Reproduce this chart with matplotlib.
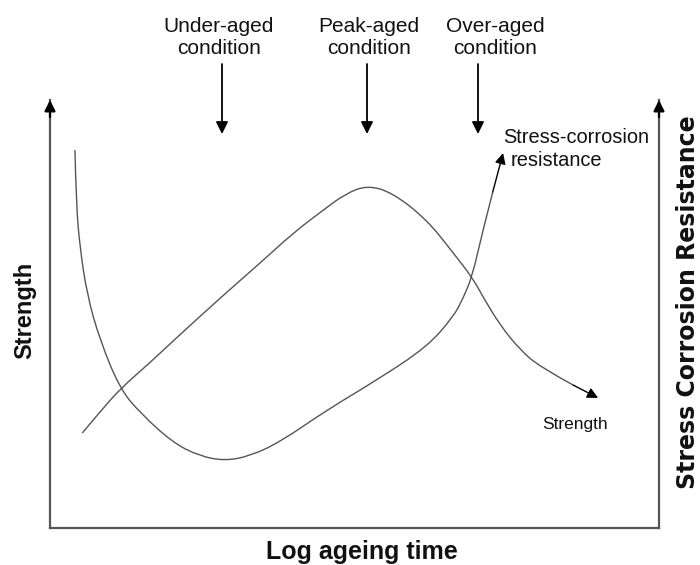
import matplotlib
matplotlib.use("Agg")
import matplotlib.pyplot as plt
from matplotlib.path import Path
from matplotlib.patches import PathPatch, FancyArrowPatch

plt.rcParams['font.family'] = ['Liberation Sans', 'DejaVu Sans']

# Schematic curves (arbitrary units, 0..10 on both axes)
strength_x = [0.53, 0.82, 1.15, 1.64, 2.02, 2.87, 3.45, 3.99, 4.47, 4.84, 5.21,
              5.63, 6.19, 6.62, 6.93, 7.11, 7.39, 7.72, 8.05, 8.59]
strength_y = [2.22, 2.71, 3.25, 3.86, 4.37, 5.47, 6.19, 6.89, 7.41, 7.80, 8.01,
              7.83, 7.20, 6.43, 5.86, 5.40, 4.74, 4.16, 3.76, 3.34]
strength_tip = (9.00, 3.04)

scr_x = [0.41, 0.43, 0.49, 0.61, 0.82, 1.15, 1.48, 2.02, 2.46, 2.87, 3.28, 3.78,
         4.55, 5.37, 6.19, 6.62, 6.77, 6.93, 7.09, 7.27]
scr_y = [8.83, 7.59, 6.57, 5.44, 4.39, 3.25, 2.69, 1.99, 1.68, 1.57, 1.68, 2.01,
         2.76, 3.46, 4.23, 4.93, 5.33, 5.86, 6.85, 7.85]
scr_tip = (7.44, 8.76)

conditions = ["Under-aged\ncondition", "Peak-aged\ncondition", "Over-aged\ncondition"]
cond_text_x = [219, 369, 495]     # pixel centres of labels
cond_arrow_x = [222, 367, 478]    # pixel x of arrows

W, H = 700, 565
fig = plt.figure(figsize=(W / 100, H / 100), dpi=100)
ax = fig.add_axes([50 / W, 1 - 528 / H, 609 / W, 428 / H])
ax.set_xlim(0, 10)
ax.set_ylim(0, 10)
ax.set_xticks([])
ax.set_yticks([])
ax.spines['top'].set_visible(False)
for s in ['left', 'right', 'bottom']:
    ax.spines[s].set_color('#555555')
    ax.spines[s].set_linewidth(1.6)

line_col = '#555555'


def smooth_path(xs, ys):
    """Quadratic B-spline style path: read points act as control points."""
    pts = list(zip(xs, ys))
    verts = [pts[0]]
    codes = [Path.MOVETO]
    for i in range(1, len(pts) - 1):
        mid = ((pts[i][0] + pts[i + 1][0]) / 2, (pts[i][1] + pts[i + 1][1]) / 2)
        if i == len(pts) - 2:
            mid = pts[-1]
        verts += [pts[i], mid]
        codes += [Path.CURVE3, Path.CURVE3]
    return Path(verts, codes)


for xs, ys in [(strength_x, strength_y), (scr_x, scr_y)]:
    ax.add_patch(PathPatch(smooth_path(xs, ys), fill=False, edgecolor=line_col,
                           lw=1.0, transform=ax.transData))

ax.annotate('', xy=strength_tip, xytext=(strength_x[-1], strength_y[-1]),
            arrowprops=dict(arrowstyle='-|>', color='black', lw=1.0,
                            mutation_scale=16, shrinkA=0, shrinkB=0))
ax.annotate('', xy=scr_tip, xytext=(scr_x[-1], scr_y[-1]),
            arrowprops=dict(arrowstyle='-|>', color='black', lw=1.0,
                            mutation_scale=16, shrinkA=0, shrinkB=0))

# axis arrowheads
for xa in [0, 1]:
    ax.annotate('', xy=(xa, 1.0), xytext=(xa, 0.96), xycoords='axes fraction',
                textcoords='axes fraction',
                arrowprops=dict(arrowstyle='-|>', color='black', lw=1.6,
                                mutation_scale=16, shrinkA=0, shrinkB=0),
                annotation_clip=False)


def fx(px):
    return px / W


def fy(py):
    return 1 - py / H


# condition labels and arrows
for lab, tx, axx in zip(conditions, cond_text_x, cond_arrow_x):
    fig.text(fx(tx), fy(38), lab, ha='center', va='center', fontsize=15,
             linespacing=1.2, color='#111111')
    fig.add_artist(FancyArrowPatch(
        (fx(axx), fy(64)), (fx(axx), fy(134)), transform=fig.transFigure,
        arrowstyle='-|>', mutation_scale=18, color='black', lw=1.3,
        shrinkA=0, shrinkB=0))

fig.text(fx(503), fy(137), "Stress-corrosion", ha='left', va='center',
         fontsize=14.4, color='#111111')
fig.text(fx(511), fy(160), "resistance", ha='left', va='center',
         fontsize=14.4, color='#111111')
fig.text(fx(575), fy(425), "Strength", ha='center', va='center',
         fontsize=12.5, color='#111111')

fig.text(fx(25), fy(310), "Strength", ha='center', va='center', rotation=90,
         fontsize=17, fontweight='bold', color='#111111')
fig.text(fx(688), fy(302), "Stress Corrosion Resistance", ha='center', va='center',
         rotation=90, fontsize=17, fontweight='bold', family='DejaVu Sans',
         color='#111111')
fig.text(fx(362), fy(552), "Log ageing time", ha='center', va='center',
         fontsize=18, fontweight='bold', color='#111111')

fig.savefig("out.png", dpi=100)
